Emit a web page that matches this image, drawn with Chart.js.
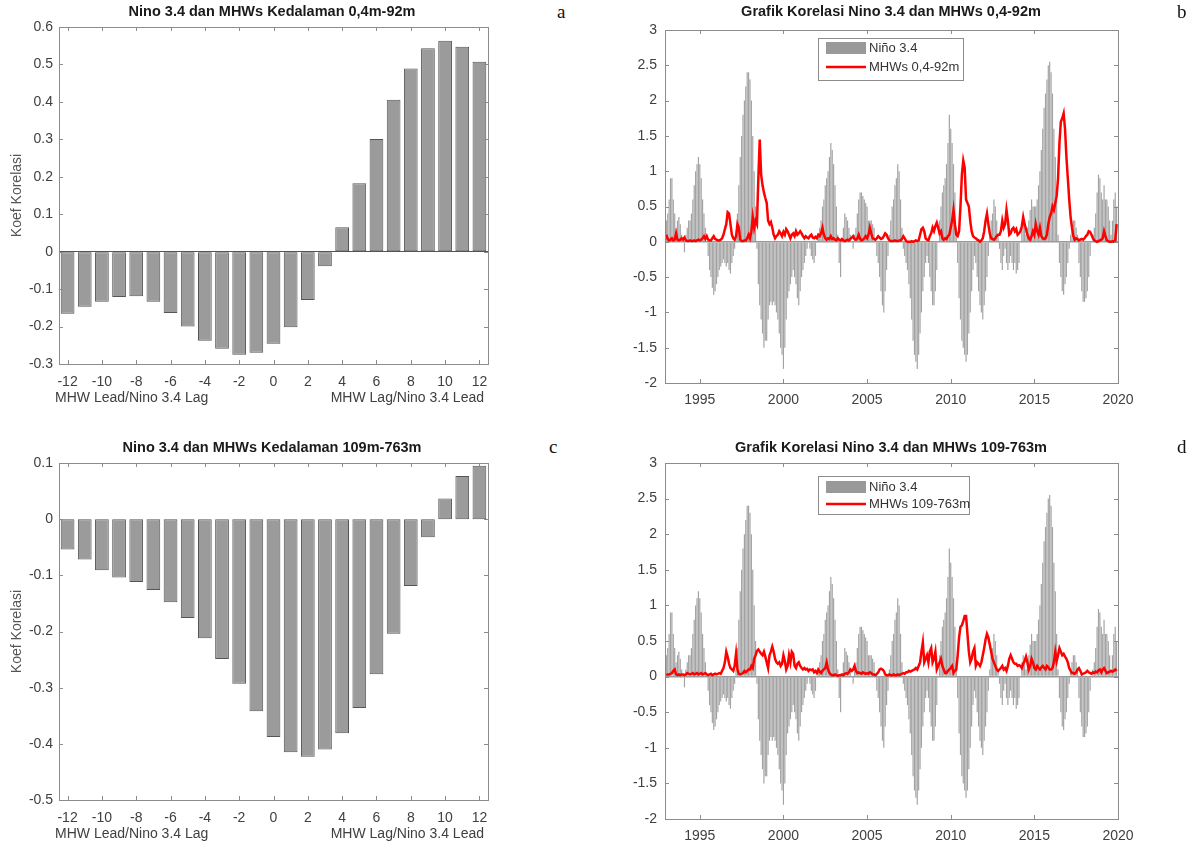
<!DOCTYPE html>
<html>
<head>
<meta charset="utf-8">
<script src="https://cdn.jsdelivr.net/npm/chart.js@4.4.0/dist/chart.umd.min.js"></script>
<style>
  body { margin: 0; background: #fff; width: 1197px; height: 843px; position: relative; overflow: hidden; }
  canvas { position: absolute; }
  .tag { position: absolute; font-family: "Liberation Serif", "Times New Roman", serif; font-size: 19px; color: #111; line-height: 24px; }
</style>
</head>
<body>
<canvas id="panelA" width="544" height="410" style="left:0;top:0"></canvas>
<canvas id="panelB" width="582" height="410" style="left:600px;top:0"></canvas>
<canvas id="panelC" width="544" height="410" style="left:0;top:436px"></canvas>
<canvas id="panelD" width="582" height="410" style="left:600px;top:436px"></canvas>
<div class="tag" style="left:557px;top:0">a</div>
<div class="tag" style="left:1177px;top:0">b</div>
<div class="tag" style="left:549px;top:435px">c</div>
<div class="tag" style="left:1177px;top:435px">d</div>
<script>
/* Data */

const lags = [-12, -11, -10, -9, -8, -7, -6, -5, -4, -3, -2, -1, 0, 1, 2, 3, 4, 5, 6, 7, 8, 9, 10, 11, 12]

// korelasi Nino 3.4 vs MHW 0,4m-92m
const corrShallow = [-0.166, -0.147, -0.134, -0.121, -0.119, -0.134, -0.164, -0.200, -0.238, -0.259, -0.275, -0.270,
  -0.246, -0.202, -0.129, -0.039, 0.065, 0.183, 0.301, 0.406, 0.489, 0.543, 0.563, 0.547, 0.507]

// korelasi Nino 3.4 vs MHW 109m-763m
const corrDeep = [-0.054, -0.072, -0.091, -0.104, -0.112, -0.126, -0.148, -0.176, -0.212, -0.249, -0.293, -0.342,
  -0.388, -0.415, -0.423, -0.410, -0.381, -0.336, -0.276, -0.204, -0.119, -0.032, 0.037, 0.077, 0.095]

const startYear = 1993

// Nino 3.4 bulanan, 1993-2019
const nino34 = [
  0.30, 0.40, 0.60, 0.90, 0.90, 0.60, 0.40, 0.20, 0.30, 0.35, 0.25, 0.10,
  0.00, -0.15, 0.10, 0.20, 0.30, 0.30, 0.40, 0.60, 0.80, 1.00, 1.10, 1.20,
  1.10, 0.90, 0.60, 0.40, 0.20, 0.00, -0.20, -0.40, -0.50, -0.65, -0.75, -0.70,
  -0.60, -0.50, -0.40, -0.35, -0.30, -0.25, -0.30, -0.35, -0.30, -0.40, -0.45, -0.30,
  -0.20, -0.10, 0.10, 0.40, 0.80, 1.20, 1.50, 1.80, 2.00, 2.20, 2.40, 2.40,
  2.30, 2.00, 1.50, 1.00, 0.50, -0.10, -0.60, -0.90, -1.10, -1.30, -1.50, -1.40,
  -1.40, -1.10, -0.90, -0.85, -0.90, -0.85, -0.90, -1.00, -1.10, -1.30, -1.50, -1.60,
  -1.80, -1.50, -1.10, -0.80, -0.70, -0.60, -0.50, -0.40, -0.50, -0.60, -0.80, -0.90,
  -0.70, -0.50, -0.40, -0.30, -0.20, -0.10, 0.00, -0.10, -0.20, -0.25, -0.30, -0.20,
  0.00, 0.10, 0.20, 0.30, 0.50, 0.60, 0.80, 0.90, 1.00, 1.20, 1.40, 1.30,
  1.10, 0.80, 0.50, 0.10, -0.30, -0.50, 0.00, 0.20, 0.40, 0.35, 0.30, 0.20,
  0.10, 0.00, -0.10, 0.10, 0.20, 0.40, 0.60, 0.70, 0.70, 0.65, 0.60, 0.55,
  0.50, 0.30, 0.30, 0.30, 0.25, 0.20, 0.00, -0.20, -0.30, -0.50, -0.70, -0.90,
  -1.00, -0.70, -0.40, -0.20, 0.10, 0.30, 0.50, 0.60, 0.80, 0.90, 1.10, 1.00,
  0.60, 0.20, -0.10, -0.20, -0.30, -0.40, -0.60, -0.80, -1.10, -1.40, -1.60, -1.70,
  -1.80, -1.60, -1.30, -1.00, -0.70, -0.50, -0.30, -0.20, -0.30, -0.50, -0.70, -0.90,
  -0.90, -0.70, -0.40, 0.00, 0.30, 0.50, 0.70, 0.80, 0.90, 1.10, 1.40, 1.80,
  1.60, 1.40, 1.10, 0.70, 0.20, -0.30, -0.80, -1.10, -1.40, -1.50, -1.60, -1.70,
  -1.60, -1.30, -1.00, -0.70, -0.40, -0.20, -0.30, -0.50, -0.70, -0.90, -1.00, -1.10,
  -0.90, -0.70, -0.50, -0.20, 0.10, 0.30, 0.40, 0.60, 0.50, 0.30, 0.10, -0.10,
  -0.30, -0.40, -0.20, -0.10, -0.30, -0.40, -0.30, -0.20, -0.30, -0.40, -0.30, -0.45,
  -0.40, -0.30, 0.00, 0.20, 0.30, 0.20, 0.10, 0.20, 0.30, 0.45, 0.60, 0.50,
  0.50, 0.50, 0.60, 0.80, 1.00, 1.30, 1.60, 1.90, 2.10, 2.30, 2.50, 2.55,
  2.40, 2.10, 1.60, 1.20, 0.60, 0.10, -0.30, -0.50, -0.70, -0.75, -0.60, -0.50,
  -0.30, -0.10, 0.10, 0.20, 0.30, 0.30, 0.20, 0.10, -0.30, -0.50, -0.70, -0.85,
  -0.85, -0.80, -0.70, -0.50, -0.20, 0.00, 0.10, 0.20, 0.40, 0.70, 0.95, 0.90,
  0.70, 0.60, 0.80, 0.60, 0.60, 0.50, 0.30, 0.10, 0.30, 0.60, 0.70, 0.50
]

// MHWs 0,4-92m
const mhwShallow = [
  0.10, 0.04, 0.02, 0.03, 0.05, 0.02, 0.03, 0.12, 0.03, 0.02, 0.03, 0.05,
  0.03, 0.06, 0.02, 0.01, 0.01, 0.02, 0.01, 0.01, 0.02, 0.01, 0.02, 0.03,
  0.02, 0.03, 0.05, 0.08, 0.04, 0.08, 0.03, 0.02, 0.02, 0.05, 0.08, 0.04,
  0.03, 0.02, 0.02, 0.03, 0.05, 0.10, 0.18, 0.25, 0.42, 0.40, 0.25, 0.10,
  0.05, 0.03, 0.08, 0.25, 0.20, 0.03, 0.01, 0.01, 0.02, 0.02, 0.05, 0.10,
  0.05, 0.15, 0.35, 0.20, 0.30, 0.25, 0.90, 1.45, 0.95, 0.80, 0.70, 0.62,
  0.55, 0.30, 0.25, 0.28, 0.20, 0.10, 0.05, 0.08, 0.10, 0.15, 0.12, 0.08,
  0.14, 0.10, 0.18, 0.15, 0.10, 0.05, 0.10, 0.12, 0.08, 0.15, 0.10, 0.12,
  0.15, 0.12, 0.08, 0.05, 0.08, 0.06, 0.05, 0.08, 0.10, 0.06, 0.05, 0.07,
  0.05, 0.10, 0.08, 0.12, 0.20, 0.10, 0.05, 0.03, 0.05, 0.04, 0.08, 0.04,
  0.05, 0.03, 0.02, 0.05, 0.03, 0.02, 0.04, 0.02, 0.01, 0.02, 0.03, 0.02,
  0.04, 0.06, 0.08, 0.04, 0.03, 0.05, 0.10, 0.04, 0.02, 0.03, 0.05, 0.08,
  0.05, 0.10, 0.20, 0.12, 0.05, 0.04, 0.03, 0.05, 0.08, 0.06, 0.04, 0.05,
  0.08, 0.12, 0.10, 0.05, 0.02, 0.01, 0.01, 0.01, 0.02, 0.01, 0.01, 0.02,
  0.02, 0.04, 0.08, 0.05, 0.01, 0.00, 0.00, 0.00, 0.01, 0.00, 0.01, 0.02,
  0.01, 0.02, 0.10, 0.18, 0.20, 0.15, 0.05, 0.03, 0.02, 0.08, 0.12, 0.20,
  0.15, 0.22, 0.27, 0.20, 0.12, 0.15, 0.05, 0.03, 0.05, 0.04, 0.08, 0.10,
  0.20, 0.30, 0.45, 0.25, 0.10, 0.08, 0.15, 0.50, 0.95, 1.15, 1.05, 0.60,
  0.55, 0.50, 0.30, 0.15, 0.08, 0.06, 0.05, 0.03, 0.02, 0.00, 0.02, 0.05,
  0.15, 0.30, 0.40, 0.25, 0.12, 0.05, 0.04, 0.03, 0.05, 0.08, 0.10, 0.10,
  0.15, 0.30, 0.20, 0.25, 0.45, 0.30, 0.10, 0.12, 0.18, 0.20, 0.15, 0.18,
  0.10, 0.12, 0.15, 0.22, 0.35, 0.25, 0.18, 0.10, 0.05, 0.03, 0.08, 0.15,
  0.10, 0.25, 0.15, 0.10, 0.20, 0.08, 0.05, 0.04, 0.05, 0.10, 0.25, 0.35,
  0.40, 0.50, 0.45, 0.55, 0.65, 0.90, 1.40, 1.70, 1.75, 1.82, 1.60, 1.20,
  0.90, 0.60, 0.35, 0.20, 0.08, 0.03, 0.05, 0.04, 0.02, 0.03, 0.04, 0.03,
  0.05, 0.08, 0.10, 0.15, 0.14, 0.10, 0.05, 0.02, 0.01, 0.00, 0.01, 0.02,
  0.03, 0.05, 0.15, 0.08, 0.02, 0.01, 0.00, 0.00, 0.01, 0.00, 0.02, 0.25
]

// MHWs 109-763m
const mhwDeep = [
  0.02, 0.03, 0.03, 0.04, 0.05, 0.08, 0.10, 0.03, 0.02, 0.03, 0.02, 0.03,
  0.03, 0.02, 0.03, 0.05, 0.04, 0.03, 0.04, 0.05, 0.03, 0.04, 0.05, 0.03,
  0.04, 0.05, 0.03, 0.04, 0.05, 0.03, 0.02, 0.03, 0.04, 0.02, 0.03, 0.04,
  0.03, 0.04, 0.05, 0.04, 0.08, 0.12, 0.20, 0.35, 0.28, 0.18, 0.12, 0.10,
  0.08, 0.15, 0.32, 0.10, 0.04, 0.03, 0.04, 0.05, 0.08, 0.06, 0.08, 0.10,
  0.10, 0.15, 0.12, 0.25, 0.30, 0.36, 0.38, 0.35, 0.32, 0.30, 0.35, 0.28,
  0.20, 0.12, 0.30, 0.35, 0.42, 0.35, 0.25, 0.20, 0.18, 0.20, 0.15, 0.18,
  0.30, 0.22, 0.10, 0.15, 0.30, 0.20, 0.35, 0.32, 0.15, 0.12, 0.18, 0.20,
  0.15, 0.12, 0.10, 0.12, 0.10, 0.11, 0.08, 0.10, 0.09, 0.10, 0.06, 0.08,
  0.05, 0.10, 0.07, 0.05, 0.08, 0.10, 0.12, 0.20, 0.10, 0.05, 0.03, 0.02,
  0.02, 0.03, 0.02, 0.01, 0.02, 0.02, 0.03, 0.02, 0.04, 0.05, 0.04, 0.06,
  0.10, 0.08, 0.10, 0.15, 0.08, 0.05, 0.06, 0.05, 0.04, 0.06, 0.05, 0.04,
  0.05, 0.04, 0.06, 0.05, 0.03, 0.03, 0.02, 0.04, 0.06, 0.10, 0.11, 0.10,
  0.08, 0.03, 0.02, 0.02, 0.03, 0.02, 0.02, 0.03, 0.02, 0.02, 0.03, 0.02,
  0.03, 0.04, 0.05, 0.04, 0.06, 0.06, 0.08, 0.07, 0.08, 0.09, 0.10, 0.12,
  0.10, 0.15, 0.20, 0.35, 0.48, 0.20, 0.25, 0.30, 0.20, 0.35, 0.40, 0.20,
  0.25, 0.35, 0.10, 0.15, 0.20, 0.25, 0.15, 0.10, 0.05, 0.05, 0.08, 0.10,
  0.12, 0.15, 0.05, 0.08, 0.10, 0.30, 0.55, 0.70, 0.72, 0.78, 0.85, 0.85,
  0.60, 0.35, 0.20, 0.25, 0.35, 0.40, 0.15, 0.20, 0.18, 0.15, 0.20, 0.30,
  0.40, 0.52, 0.60, 0.55, 0.45, 0.35, 0.25, 0.20, 0.15, 0.10, 0.08, 0.10,
  0.12, 0.15, 0.10, 0.12, 0.08, 0.15, 0.25, 0.30, 0.25, 0.20, 0.18, 0.18,
  0.15, 0.16, 0.15, 0.12, 0.18, 0.22, 0.28, 0.20, 0.10, 0.15, 0.25, 0.20,
  0.12, 0.10, 0.15, 0.12, 0.10, 0.13, 0.15, 0.12, 0.10, 0.15, 0.13, 0.10,
  0.10, 0.12, 0.20, 0.35, 0.22, 0.30, 0.40, 0.35, 0.30, 0.32, 0.28, 0.25,
  0.20, 0.12, 0.08, 0.05, 0.05, 0.04, 0.06, 0.10, 0.12, 0.08, 0.03, 0.04,
  0.05, 0.06, 0.08, 0.06, 0.05, 0.04, 0.06, 0.05, 0.07, 0.06, 0.09, 0.10,
  0.06, 0.10, 0.12, 0.08, 0.05, 0.06, 0.07, 0.08, 0.07, 0.08, 0.10, 0.08
]

const months = nino34.map((v, i) => startYear + i / 12)

/* Style */

const FONT = '"Liberation Sans", Arial, sans-serif'
const TICK_COLOR = '#404040'
const AXIS_COLOR = '#8c8c8c'

Chart.defaults.font.family = FONT
Chart.defaults.animation = false

const fmt = v => String(+(+v).toFixed(2))

// kotak sumbu ala matlab, tick ke dalam
const matlabBox = {
  id: 'matlabBox',
  afterDatasetsDraw(chart) {
    const { ctx, chartArea: a, scales } = chart
    const t = 4
    ctx.save()
    ctx.strokeStyle = AXIS_COLOR
    ctx.lineWidth = 1
    ctx.beginPath()
    scales.x.ticks.forEach(tk => {
      const x = Math.round(scales.x.getPixelForValue(tk.value)) + 0.5
      ctx.moveTo(x, a.bottom); ctx.lineTo(x, a.bottom - t)
      ctx.moveTo(x, a.top); ctx.lineTo(x, a.top + t)
    })
    scales.y.ticks.forEach(tk => {
      const y = Math.round(scales.y.getPixelForValue(tk.value)) + 0.5
      ctx.moveTo(a.left, y); ctx.lineTo(a.left + t, y)
      ctx.moveTo(a.right, y); ctx.lineTo(a.right - t, y)
    })
    ctx.stroke()
    ctx.strokeRect(Math.round(a.left) + 0.5, Math.round(a.top) + 0.5, Math.round(a.width), Math.round(a.height))
    ctx.restore()
  }
}

// label sumbu: kiri/kanan di bawah sumbu x, dan judul sumbu y
const axisLabels = {
  id: 'axisLabels',
  afterDraw(chart, args, opts) {
    if (!opts.left) return
    const { ctx, chartArea: a } = chart
    ctx.save()
    ctx.font = '14px ' + FONT
    ctx.fillStyle = TICK_COLOR
    ctx.textBaseline = 'middle'
    ctx.textAlign = 'left'
    ctx.fillText(opts.left, a.left - 4, a.bottom + 34)
    ctx.textAlign = 'right'
    ctx.fillText(opts.right, a.right - 4, a.bottom + 34)
    ctx.translate(17, (a.top + a.bottom) / 2)
    ctx.rotate(-Math.PI / 2)
    ctx.textAlign = 'center'
    ctx.fillStyle = '#555'
    ctx.fillText(opts.yTitle, 0, 0)
    ctx.restore()
  }
}

// legenda di dalam area plot
const boxLegend = {
  id: 'boxLegend',
  afterDraw(chart, args, opts) {
    if (!opts.width) return
    const { ctx, chartArea: a } = chart
    const x0 = Math.round(a.left + opts.x), y0 = Math.round(a.top + opts.y)
    ctx.save()
    ctx.fillStyle = '#fff'
    ctx.fillRect(x0, y0, opts.width, opts.height)
    ctx.strokeStyle = AXIS_COLOR
    ctx.lineWidth = 1
    ctx.strokeRect(x0 + 0.5, y0 + 0.5, opts.width, opts.height)
    ctx.font = '13px ' + FONT
    ctx.textBaseline = 'middle'
    ctx.textAlign = 'left'
    chart.data.datasets.forEach((ds, i) => {
      const cy = y0 + opts.rows[i]
      if (ds.type === 'bar') {
        ctx.fillStyle = '#999999'
        ctx.fillRect(x0 + 8, cy - 6, 40, 12)
      } else {
        ctx.strokeStyle = ds.borderColor
        ctx.lineWidth = ds.borderWidth
        ctx.beginPath()
        ctx.moveTo(x0 + 8, cy); ctx.lineTo(x0 + 48, cy)
        ctx.stroke()
      }
      ctx.fillStyle = '#333'
      ctx.fillText(ds.label, x0 + 51, cy)
    })
    ctx.restore()
  }
}

function titleOpts (text, bottom) {
  return {
    display: true,
    text: text,
    color: '#1a1a1a',
    font: { size: 14.5, weight: 'bold', family: FONT },
    padding: { top: 3, bottom: bottom }
  }
}

// sumbu kanan kosong, hanya untuk memberi ruang di kanan kotak plot
function spacer (w) {
  return {
    position: 'right',
    min: 0,
    max: 1,
    afterFit: s => { s.width = w },
    grid: { display: false },
    border: { display: false },
    ticks: { display: false }
  }
}

function lagChart (id, title, values, yMin, yMax) {
  return new Chart(document.getElementById(id), {
    type: 'bar',
    data: {
      datasets: [{
        type: 'bar',
        label: 'Koef Korelasi',
        data: lags.map((l, i) => ({ x: l, y: values[i] })),
        backgroundColor: '#9b9b9b',
        borderColor: '#555555',
        borderWidth: 1,
        borderSkipped: false,
        barPercentage: 0.8,
        categoryPercentage: 1
      }]
    },
    options: {
      responsive: false,
      layout: { padding: 0 },
      plugins: {
        title: titleOpts(title, 6.6),
        legend: { display: false },
        tooltip: { enabled: false },
        axisLabels: { left: 'MHW Lead/Nino 3.4 Lag', right: 'MHW Lag/Nino 3.4 Lead', yTitle: 'Koef Korelasi' },
        boxLegend: {}
      },
      scales: {
        x: {
          type: 'linear',
          offset: false,
          min: -12.5,
          max: 12.5,
          afterFit: s => { s.height = 46 },
          grid: { display: false },
          border: { display: false },
          ticks: { stepSize: 2, includeBounds: false, color: TICK_COLOR, font: { size: 14 }, padding: 2, maxRotation: 0, autoSkip: false, callback: fmt }
        },
        y: {
          min: yMin,
          max: yMax,
          afterFit: s => { s.width = 59 },
          grid: { drawTicks: false, color: c => c.tick && c.tick.value === 0 ? '#555555' : 'rgba(0,0,0,0)' },
          border: { display: false },
          ticks: { stepSize: 0.1, color: TICK_COLOR, font: { size: 14 }, padding: 6, callback: fmt }
        },
        yR: spacer(56)
      }
    },
    plugins: [matlabBox, axisLabels, boxLegend]
  })
}

function seriesChart (id, title, mhw, label, titleBottom, legend) {
  return new Chart(document.getElementById(id), {
    type: 'bar',
    data: {
      datasets: [
        {
          type: 'bar',
          label: 'Niño 3.4',
          data: nino34.map((v, i) => ({ x: months[i], y: v })),
          backgroundColor: '#a3a3a3',
          borderWidth: 0,
          barPercentage: 0.85,
          categoryPercentage: 1,
          order: 2
        },
        {
          type: 'line',
          label: label,
          data: mhw.map((v, i) => ({ x: months[i], y: v })),
          borderColor: '#ff0000',
          borderWidth: 2.5,
          pointRadius: 0,
          tension: 0,
          order: 1
        }
      ]
    },
    options: {
      responsive: false,
      layout: { padding: 0 },
      plugins: {
        title: titleOpts(title, titleBottom),
        legend: { display: false },
        tooltip: { enabled: false },
        axisLabels: {},
        boxLegend: legend
      },
      scales: {
        x: {
          type: 'linear',
          offset: false,
          min: 1992.92,
          max: 2020,
          afterFit: s => { s.height = 27 },
          grid: { display: false },
          border: { display: false },
          ticks: { stepSize: 5, includeBounds: false, color: TICK_COLOR, font: { size: 14 }, padding: 1, maxRotation: 0, autoSkip: false, callback: v => String(v) }
        },
        y: {
          min: -2,
          max: 3,
          afterFit: s => { s.width = 65 },
          grid: { drawTicks: false, lineWidth: 1.5, color: c => c.tick && c.tick.value === 0 ? '#9a9a9a' : 'rgba(0,0,0,0)' },
          border: { display: false },
          ticks: { stepSize: 0.5, color: TICK_COLOR, font: { size: 14 }, padding: 8, callback: fmt }
        },
        yR: spacer(64)
      }
    },
    plugins: [matlabBox, axisLabels, boxLegend]
  })
}

lagChart('panelA', 'Nino 3.4 dan MHWs Kedalaman 0,4m-92m', corrShallow, -0.3, 0.6)
lagChart('panelC', 'Nino 3.4 dan MHWs Kedalaman 109m-763m', corrDeep, -0.5, 0.1)
seriesChart('panelB', 'Grafik Korelasi Nino 3.4 dan MHWs 0,4-92m', mhwShallow, 'MHWs 0,4-92m', 9.6,
  { x: 153, y: 8, width: 145, height: 42, rows: [10, 29] })
seriesChart('panelD', 'Grafik Korelasi Nino 3.4 dan MHWs 109-763m', mhwDeep, 'MHWs 109-763m', 6.6,
  { x: 153, y: 13, width: 151, height: 38, rows: [11, 28] })
</script>
</body>
</html>
